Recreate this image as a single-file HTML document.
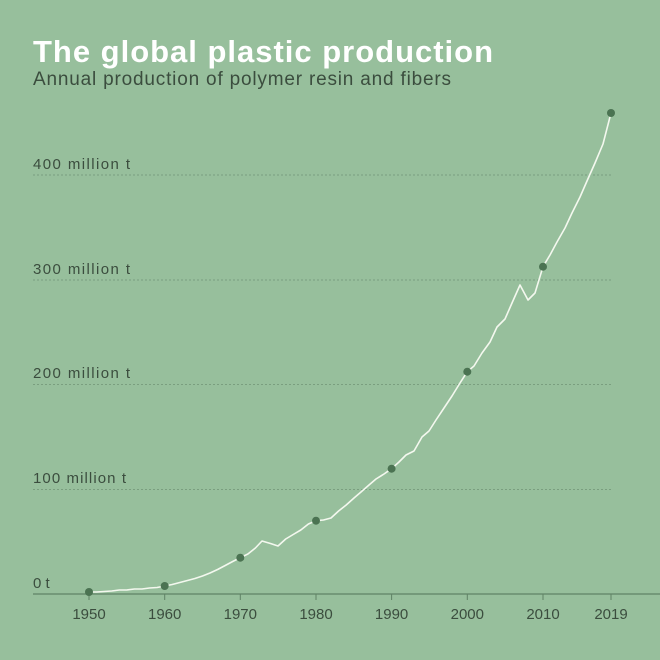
<!DOCTYPE html>
<html><head><style>
html,body{margin:0;padding:0;background:#97bf9c;}
svg{display:block;font-family:"Liberation Sans",sans-serif;}
</style></head><body>
<svg width="660" height="660" viewBox="0 0 660 660">
<rect width="660" height="660" fill="#97bf9c"/>
<text x="33" y="62" font-size="31" font-weight="bold" fill="#fff" textLength="460" lengthAdjust="spacing">The global plastic production</text>
<text x="33" y="85" font-size="19" fill="#3b4d3e" textLength="418" lengthAdjust="spacing">Annual production of polymer resin and fibers</text>
<g stroke="#7a9e7f" stroke-width="1" stroke-dasharray="2,2">
<line x1="33" y1="175" x2="611" y2="175"/>
<line x1="33" y1="280" x2="611" y2="280"/>
<line x1="33" y1="384.5" x2="611" y2="384.5"/>
<line x1="33" y1="489.5" x2="611" y2="489.5"/>
</g>
<g font-size="15" fill="#3b4d3e">
<text x="33" y="169" textLength="97" lengthAdjust="spacing">400 million t</text>
<text x="33" y="274" textLength="97" lengthAdjust="spacing">300 million t</text>
<text x="33" y="378" textLength="97" lengthAdjust="spacing">200 million t</text>
<text x="33" y="483" textLength="93" lengthAdjust="spacing">100 million t</text>
<text x="33" y="588">0 t</text>
</g>
<line x1="33" y1="594" x2="660" y2="594" stroke="#5f8265" stroke-width="1.2"/>
<g stroke="#5f8265" stroke-width="1">
<line x1="89" y1="594" x2="89" y2="600"/><line x1="164.7" y1="594" x2="164.7" y2="600"/>
<line x1="240.3" y1="594" x2="240.3" y2="600"/><line x1="316" y1="594" x2="316" y2="600"/>
<line x1="391.6" y1="594" x2="391.6" y2="600"/><line x1="467.3" y1="594" x2="467.3" y2="600"/>
<line x1="543" y1="594" x2="543" y2="600"/><line x1="611" y1="594" x2="611" y2="600"/>
</g>
<g font-size="15" fill="#3b4d3e" text-anchor="middle">
<text x="89" y="619">1950</text><text x="164.7" y="619">1960</text><text x="240.3" y="619">1970</text>
<text x="316" y="619">1980</text><text x="391.6" y="619">1990</text><text x="467.3" y="619">2000</text>
<text x="543" y="619">2010</text><text x="611" y="619">2019</text>
</g>
<polyline fill="none" stroke="#f4f8ef" stroke-width="1.6" stroke-linejoin="round" points="
89,592 96.6,592 104.1,591.5 111.7,591 119.3,590 126.8,590 134.4,589 142,589 149.5,588 157.1,587.5
164.7,586 172.2,584.5 179.8,582.5 187.4,580.5 194.9,578.5 202.5,576 210,573 217.6,569.5 225.2,565.5 232.7,561.5
240.3,557.7 247.9,554 255.4,548 262,541 270.5,543.5 278,546 285.7,539 293.2,534.5 300.8,530 308.4,524
316,520.7 323.5,520 331,518 338.6,511 346.2,505 354,498 361,492 369,485 376,479 384,474
391.6,468.7 399,462 406,455 414,451 422,437 429,431 436,420 444,408 452,396 460,383
467.3,371.7 474,366 482,353 490,342 497,327 505,319 512,303 520,285 528,300 535,293
543,266.7 550,255 557,242 565,228 572,213 580,197 587,181 595,163 603,144 611,113"/>
<g fill="#4b7352">
<circle cx="89" cy="592" r="4"/><circle cx="164.7" cy="586" r="4"/><circle cx="240.3" cy="557.7" r="4"/>
<circle cx="316" cy="520.7" r="4"/><circle cx="391.6" cy="468.7" r="4"/><circle cx="467.3" cy="371.7" r="4"/>
<circle cx="543" cy="266.7" r="4"/><circle cx="611" cy="113" r="4"/>
</g>
</svg>
</body></html>
